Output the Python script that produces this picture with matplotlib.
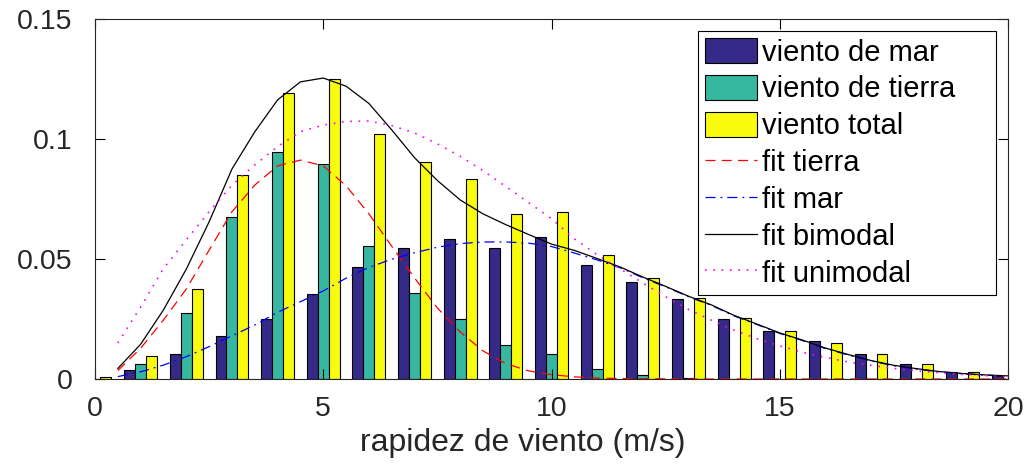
import numpy as np
import matplotlib.pyplot as plt

plt.rcParams['font.family'] = ['Liberation Sans', 'DejaVu Sans']

# histogram bins (m/s)
bins = np.arange(0, 21)
viento_mar = [0, 0.0037, 0.0104, 0.0178, 0.0249, 0.0353, 0.0467, 0.0544, 0.0583, 0.0546, 0.0592,
              0.0475, 0.0403, 0.0333, 0.0251, 0.0200, 0.0158, 0.0103, 0.0061, 0.0030, 0.0014]
viento_tierra = [0, 0.0063, 0.0274, 0.0674, 0.0946, 0.0897, 0.0554, 0.0357, 0.0249, 0.0140, 0.0103,
                 0.0042, 0.0017, 0.0005, 0.0002, 0.0001, 0, 0, 0, 0, 0]
viento_total = [0.0007, 0.0097, 0.0376, 0.0851, 0.1192, 0.1249, 0.1022, 0.0903, 0.0833, 0.0686, 0.0696,
                0.0515, 0.0420, 0.0336, 0.0254, 0.0201, 0.0150, 0.0103, 0.0061, 0.0028, 0.0010]

# fitted curves, sampled every 0.5 m/s
v_fit = np.arange(0.5, 20.01, 0.5)
fit_tierra = [0.0035, 0.0128, 0.0246, 0.0375, 0.0537, 0.0697, 0.0808, 0.0888, 0.0912, 0.0888,
              0.0805, 0.0688, 0.0553, 0.0421, 0.0296, 0.0196, 0.0117, 0.0064, 0.0034, 0.0018,
              0.0009, 0.0004, 0.0002, 0.0001, 0.0001, 0, 0, 0, 0, 0,
              0, 0, 0, 0, 0, 0, 0, 0, 0, 0]
fit_mar = [0.0010, 0.0030, 0.0058, 0.0093, 0.0135, 0.0180, 0.0225, 0.0278, 0.0322, 0.0367,
           0.0420, 0.0465, 0.0499, 0.0526, 0.0549, 0.0564, 0.0571, 0.0571, 0.0566, 0.0552,
           0.0525, 0.0496, 0.0464, 0.0422, 0.0384, 0.0343, 0.0307, 0.0263, 0.0227, 0.0190,
           0.0160, 0.0127, 0.0100, 0.0075, 0.0055, 0.0041, 0.0030, 0.0022, 0.0016, 0.0012]
fit_bimodal = [0.0044, 0.0145, 0.0288, 0.0458, 0.0655, 0.0875, 0.1030, 0.1163, 0.1238, 0.1254,
               0.1220, 0.1148, 0.1038, 0.0922, 0.0827, 0.0746, 0.0688, 0.0643, 0.0602, 0.0562,
               0.0536, 0.0502, 0.0467, 0.0425, 0.0386, 0.0345, 0.0309, 0.0265, 0.0229, 0.0192,
               0.0162, 0.0129, 0.0102, 0.0077, 0.0057, 0.0043, 0.0031, 0.0023, 0.0017, 0.0013]
fit_unimodal = [0.0150, 0.0300, 0.0460, 0.0580, 0.0697, 0.0808, 0.0892, 0.0968, 0.1031, 0.1058,
                0.1073, 0.1075, 0.1056, 0.1025, 0.0980, 0.0928, 0.0868, 0.0802, 0.0735, 0.0668,
                0.0584, 0.0518, 0.0460, 0.0400, 0.0343, 0.0290, 0.0245, 0.0203, 0.0168, 0.0138,
                0.0111, 0.0090, 0.0071, 0.0057, 0.0044, 0.0034, 0.0026, 0.0019, 0.0014, 0.0010]

fig = plt.figure(figsize=(10.25, 4.7), dpi=100)
ax = fig.add_axes([0.0927, 0.1936, 0.8907, 0.766])

w = 0.24
b1 = ax.bar(bins - w, viento_mar, w, color='#352a87', edgecolor='black', linewidth=0.8, label='viento de mar')
b2 = ax.bar(bins, viento_tierra, w, color='#36b8a0', edgecolor='black', linewidth=0.8, label='viento de tierra')
b3 = ax.bar(bins + w, viento_total, w, color='#f9fb0e', edgecolor='black', linewidth=0.8, label='viento total')

l1, = ax.plot(v_fit, fit_tierra, color='red', linestyle=(0, (8, 5)), linewidth=0.9, label='fit tierra')
l2, = ax.plot(v_fit, fit_mar, color='blue', linestyle=(0, (8, 4, 1.5, 4)), linewidth=0.9, label='fit mar')
l3, = ax.plot(v_fit, fit_bimodal, color='black', linewidth=0.9, label='fit bimodal')
l4, = ax.plot(v_fit, fit_unimodal, color='magenta', linestyle=(0, (1, 4)), linewidth=1.2, label='fit unimodal')

ax.set_xlim(0, 20)
ax.set_ylim(0, 0.15)
ax.set_xticks([0, 5, 10, 15, 20])
ax.set_yticks([0, 0.05, 0.1, 0.15])
ax.set_yticklabels(['0', '0.05', '0.1', '0.15'])
ax.tick_params(direction='in', top=True, right=True, length=7, width=0.8, labelsize=20.5,
               labelcolor='#262626')
ax.tick_params(axis='x', pad=12)
ax.tick_params(axis='y', pad=16)
for s in ax.spines.values():
    s.set_linewidth(0.8)
    s.set_color('#262626')
ax.set_xlabel('rapidez de viento (m/s)', fontsize=23, labelpad=4, color='#262626')
ax.xaxis.set_label_coords(0.469, -0.135)

leg = ax.legend([b1, b2, b3, l1, l2, l3, l4],
                ['viento de mar', 'viento de tierra', 'viento total',
                 'fit tierra', 'fit mar', 'fit bimodal', 'fit unimodal'],
                loc='upper right', bbox_to_anchor=(0.6605, 0.2, 0.3265, 0.767), mode='expand',
                fontsize=21, frameon=True,
                fancybox=False, edgecolor='black', framealpha=1, handlelength=1.78, handleheight=0.96,
                labelspacing=0.28, handletextpad=0.17, borderpad=0.24, borderaxespad=0)
leg.get_frame().set_linewidth(0.8)

fig.savefig('out.png', dpi=100)
